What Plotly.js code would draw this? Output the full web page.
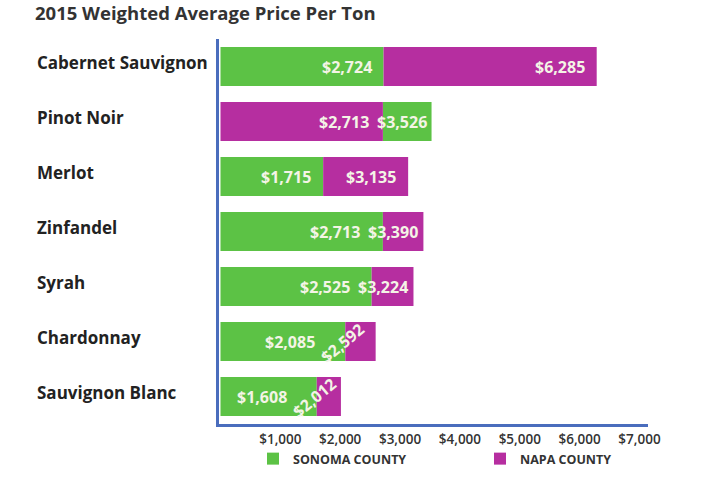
<!DOCTYPE html>
<html>
<head>
<meta charset="utf-8">
<script src="https://cdn.plot.ly/plotly-3.0.1.min.js"></script>
<style>
  html, body { margin: 0; padding: 0; background: #fff; }
  #chart { width: 720px; height: 478px; }
</style>
</head>
<body>
<div id="chart"></div>
<script>
// data
const varieties = ["Cabernet Sauvignon", "Pinot Noir", "Merlot", "Zinfandel", "Syrah", "Chardonnay", "Sauvignon Blanc"];
const sonoma = [2724, 3526, 1715, 2713, 2525, 2085, 1608];
const napa = [6285, 2713, 3135, 3390, 3224, 2592, 2012];
const tickVals = [1000, 2000, 3000, 4000, 5000, 6000, 7000];
const tickText = ["$1,000", "$2,000", "$3,000", "$4,000", "$5,000", "$6,000", "$7,000"];

const GREEN = "#5cc245";
const PURPLE = "#b62ea0";
const AXIS = "#4a6dbd";

const money = v => "$" + v.toLocaleString("en-US");

// the shorter bar sits at 0, the longer one continues from its end
const sBase = sonoma.map((s, i) => s <= napa[i] ? 0 : napa[i]);
const sLen = sonoma.map((s, i) => s - sBase[i]);
const nBase = napa.map((n, i) => n < sonoma[i] ? 0 : sonoma[i]);
const nLen = napa.map((n, i) => n - nBase[i]);

const traces = [
    {
        type: "bar", orientation: "h", name: "SONOMA COUNTY",
        y: varieties, x: sLen, base: sBase,
        marker: { color: GREEN }, hoverinfo: "skip", legend: "legend"
    },
    {
        type: "bar", orientation: "h", name: "NAPA COUNTY",
        y: varieties, x: nLen, base: nBase,
        marker: { color: PURPLE }, hoverinfo: "skip", legend: "legend2"
    }
];

const XRANGE = [-25, 7142];
const PLOT_W = 720 - 219 - 72;
const pxPerUnit = PLOT_W / (XRANGE[1] - XRANGE[0]);
const LABEL_W = 48;

const annotations = [];
const labelFont = { family: "Open Sans, sans-serif", size: 16, color: "#f4f4e6", weight: 700 };
const lbl = (val, extra) => Object.assign({
    text: "<b>" + money(val) + "</b>", showarrow: false, font: labelFont
}, extra);

varieties.forEach((v, i) => {
    // category names, left aligned
    annotations.push({
        xref: "paper", yref: "y", x: -0.428, y: v, xanchor: "left", yshift: 4,
        text: "<b>" + v + "</b>", showarrow: false,
        font: { family: "Open Sans, sans-serif", size: 17, color: "#222" }
    });

    const innerIsS = sBase[i] === 0;
    const innerVal = innerIsS ? sonoma[i] : napa[i];
    const outerVal = innerIsS ? napa[i] : sonoma[i];
    const outerPx = (outerVal - innerVal) * pxPerUnit;

    let innerShift = -10;
    if (outerPx < 36) {
        // too narrow: tilt the outer label over the join
        innerShift = -28;
        annotations.push(lbl(outerVal, { x: innerVal, y: v, xshift: -3, yshift: -1, textangle: -40 }));
    } else if (outerPx < 58) {
        innerShift = outerPx - 3 - LABEL_W - 10;
        annotations.push(lbl(outerVal, { x: outerVal, y: v, xanchor: "right", xshift: -3 }));
    } else {
        annotations.push(lbl(outerVal, { x: outerVal, y: v, xanchor: "right", xshift: -10 }));
    }
    annotations.push(lbl(innerVal, { x: innerVal, y: v, xanchor: "right", xshift: innerShift }));
});

const legendFont = { family: "Open Sans, sans-serif", size: 12.5, color: "#333", weight: 700 };

const layout = {
    width: 720, height: 478,
    margin: { l: 219, r: 72, t: 39, b: 54 },
    paper_bgcolor: "#fff", plot_bgcolor: "#fff",
    title: {
        text: "<b>2015 Weighted Average Price Per Ton</b>",
        x: 35 / 720, xanchor: "left", xref: "container",
        y: 1 - 14 / 478, yanchor: "middle", yref: "container",
        font: { family: "Open Sans, sans-serif", size: 18.5, color: "#333" }
    },
    barmode: "overlay",
    bargap: 0.29,
    showlegend: true,
    legend: {
        orientation: "h", xref: "container", x: 253 / 720, xanchor: "left",
        yref: "container", y: 1 - 459 / 478, yanchor: "middle",
        bgcolor: "rgba(0,0,0,0)", font: legendFont
    },
    legend2: {
        orientation: "h", xref: "container", x: 480 / 720, xanchor: "left",
        yref: "container", y: 1 - 459 / 478, yanchor: "middle",
        bgcolor: "rgba(0,0,0,0)", font: legendFont
    },
    xaxis: {
        range: XRANGE,
        tickvals: tickVals, ticktext: tickText,
        showgrid: false, zeroline: false,
        showline: true, linecolor: AXIS, linewidth: 3,
        ticks: "", ticklabelstandoff: 1,
        tickfont: { family: "Open Sans, sans-serif", size: 13.5, color: "#333", weight: 600 }
    },
    yaxis: {
        autorange: "reversed",
        showticklabels: false, showgrid: false, zeroline: false,
        showline: true, linecolor: AXIS, linewidth: 3, ticks: ""
    },
    annotations: annotations
};

Plotly.newPlot("chart", traces, layout, { displayModeBar: false, staticPlot: true });
</script>
</body>
</html>
